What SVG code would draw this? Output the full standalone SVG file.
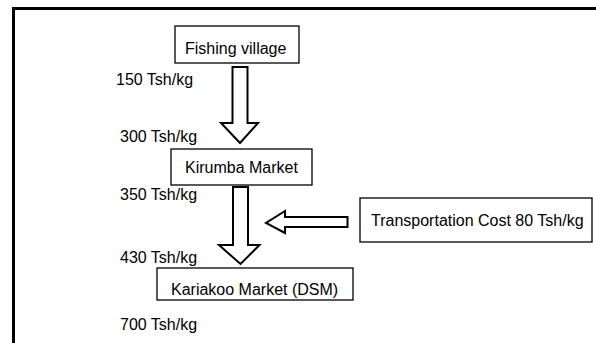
<svg xmlns="http://www.w3.org/2000/svg" width="596" height="343" viewBox="0 0 596 343">
  <style>
    .box { fill: #fff; stroke: #000; stroke-width: 1.3; }
    .arrow { fill: #fff; stroke: #000; stroke-width: 2; stroke-linejoin: miter; }
    .frame { fill: none; stroke: #000; stroke-width: 3; }
    text { font-family: "Liberation Sans", Arial, sans-serif; font-size: 16px; fill: #000; }
  </style>
  <rect width="596" height="343" fill="#fff"/>
  <!-- open frame: top and left edges -->
  <path class="frame" d="M13.5 343 V8.5 H596"/>

  <g id="connectors">
    <!-- Fishing village to Kirumba Market -->
    <path class="arrow" d="M232.5 67 H247.5 V123 H258 L240 143 L221 123 H232.5 Z"/>
    <!-- Kirumba Market to Kariakoo Market -->
    <path class="arrow" d="M233 187 H248 V245 H259.5 L240.5 264 L219 245 H233 Z"/>
    <!-- transportation cost feeding in -->
    <path class="arrow" d="M347.5 217 V227 H285 V233 L266 223 L285 211 V217 Z"/>
  </g>

  <g id="fishing-village">
    <rect class="box" x="175" y="26" width="124" height="37"/>
    <text x="185" y="54">Fishing village</text>
  </g>
  <g id="kirumba-market">
    <rect class="box" x="171" y="149" width="141" height="36"/>
    <text x="185" y="173">Kirumba Market</text>
  </g>
  <g id="kariakoo-market">
    <rect class="box" x="157" y="268" width="196" height="32"/>
    <text x="171" y="295">Kariakoo Market (DSM)</text>
  </g>
  <g id="transportation-cost">
    <rect class="box" x="360" y="198" width="232" height="44"/>
    <text x="371" y="226">Transportation Cost 80 Tsh/kg</text>
  </g>

  <g id="price-labels">
    <text x="116" y="85">150 Tsh/kg</text>
    <text x="120" y="142">300 Tsh/kg</text>
    <text x="120" y="200">350 Tsh/kg</text>
    <text x="120" y="263">430 Tsh/kg</text>
    <text x="120" y="330">700 Tsh/kg</text>
  </g>
</svg>
